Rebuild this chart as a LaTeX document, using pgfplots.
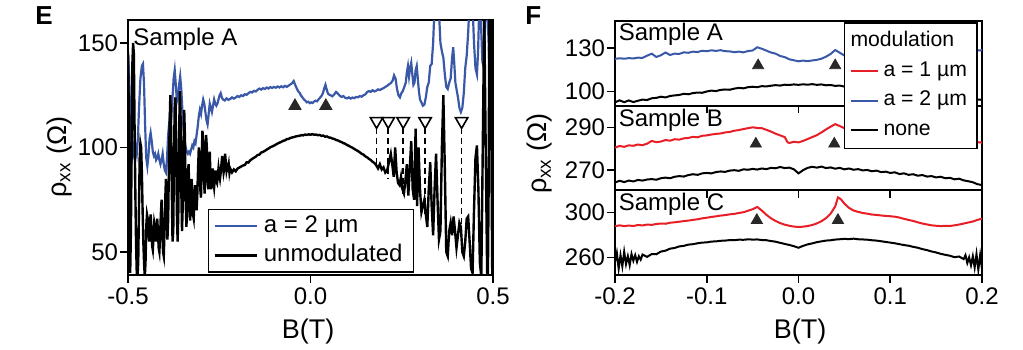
\documentclass[border=0pt]{standalone}
\usepackage{fontspec}
\setmainfont{Liberation Sans}
\usepackage{pgfplots}
\pgfplotsset{compat=1.18}
\definecolor{myblue}{RGB}{58,88,168}
\definecolor{myred}{RGB}{232,30,38}
\definecolor{tri}{RGB}{40,40,40}
\pgfplotsset{base/.style={
  scale only axis,
  axis line style={line width=1pt},
  tick style={line width=0.8pt, black},
  tick align=outside,
  major tick length=3.8pt,
  xtick pos=left, ytick pos=left,
  minor tick num=0,
  ticklabel style={font=\fontsize{12}{14}\selectfont},
  yticklabel style={inner sep=1pt},
  xticklabel style={inner sep=2.5pt},
  clip=true,
}}
\begin{document}
\begin{tikzpicture}
\useasboundingbox (0,0) rectangle (511.5pt,174.5pt);
% ================= Panel E =================
\begin{axis}[base, at={(64pt,37pt)}, anchor=south west, width=182.5pt, height=127.5pt,
  xmin=-0.5, xmax=0.5, ymin=39, ymax=161,
  xtick={-0.5,0,0.5}, xticklabels={-0.5,0.0,0.5},
  ytick={50,100,150}, yticklabels={50,100,150},
  legend cell align=left,
  legend image code/.code={\draw[#1] (0pt,0pt) -- (21pt,0pt);},
  legend style={at={(0.5014,0.0118)}, anchor=south, draw=black, line width=0.7pt, fill=white,
    outer sep=0pt, inner xsep=2.5pt, inner ysep=1pt, font=\fontsize{12}{14}\selectfont,
    row sep=0pt, nodes={inner xsep=3pt, inner ysep=1.6pt, text height=8.8pt, text depth=2.6pt}},
]
\addplot[myblue, line width=1.1pt] coordinates {
(-0.500,145) (-0.497,135) (-0.494,115) (-0.491,100) (-0.488,95) (-0.485,98) (-0.482,104) (-0.479,100)
(-0.476,97) (-0.473,104) (-0.470,118) (-0.466,133) (-0.462,139) (-0.459,140) (-0.456,130) (-0.453,110)
(-0.450,95) (-0.447,91) (-0.444,96) (-0.441,104) (-0.438,107) (-0.435,103) (-0.432,98) (-0.429,96)
(-0.426,97) (-0.423,94) (-0.420,95) (-0.417,97) (-0.414,94) (-0.411,92) (-0.408,94) (-0.405,97)
(-0.402,92) (-0.399,89) (-0.396,88) (-0.393,95) (-0.390,106) (-0.387,112) (-0.384,108) (-0.381,115)
(-0.378,124) (-0.375,133) (-0.372,137) (-0.369,130) (-0.366,122) (-0.363,124) (-0.360,130) (-0.357,134)
(-0.354,128) (-0.351,118) (-0.348,110) (-0.345,104) (-0.342,100) (-0.339,98) (-0.336,97) (-0.333,98)
(-0.330,97) (-0.327,99) (-0.324,101) (-0.321,100) (-0.318,103) (-0.315,102) (-0.312,106) (-0.309,110)
(-0.306,115) (-0.303,118) (-0.300,116) (-0.297,120) (-0.294,123) (-0.291,121) (-0.288,117) (-0.285,113)
(-0.282,111) (-0.279,116) (-0.276,121) (-0.273,119) (-0.270,117) (-0.267,120) (-0.264,123) (-0.261,121)
(-0.258,120) (-0.255,121) (-0.252,123) (-0.249,125) (-0.246,126) (-0.243,124) (-0.240,123) (-0.235,122.5)
(-0.230,123.5) (-0.225,122.8) (-0.220,123.2) (-0.215,124.0) (-0.210,123.4) (-0.205,123.9) (-0.200,124.6)
(-0.195,124.2) (-0.190,125.0) (-0.185,124.6) (-0.180,125.5) (-0.175,125.2) (-0.170,126.0) (-0.165,126.6)
(-0.160,126.3) (-0.155,127.1) (-0.150,126.8) (-0.145,127.6) (-0.140,128.2) (-0.135,127.7) (-0.130,128.4)
(-0.125,128.0) (-0.120,128.7) (-0.115,128.2) (-0.110,128.9) (-0.105,128.5) (-0.100,129.0) (-0.095,128.6)
(-0.090,129.2) (-0.085,128.7) (-0.080,129.3) (-0.075,128.8) (-0.070,129.5) (-0.065,129.0) (-0.060,129.6)
(-0.055,130.2) (-0.050,130.8) (-0.046,131.8) (-0.042,130.0) (-0.038,128.4) (-0.034,127.0) (-0.030,126.2)
(-0.026,124.8) (-0.022,124.0) (-0.018,123.0) (-0.014,122.4) (-0.010,121.6) (-0.006,121.9) (-0.002,121.2)
(0.002,121.6) (0.006,121.3) (0.010,122.0) (0.014,122.4) (0.018,122.1) (0.022,123.0) (0.026,123.8)
(0.030,124.6) (0.034,126.0) (0.038,128.5) (0.041,130.0) (0.044,128.0) (0.047,126.2) (0.050,125.4)
(0.055,125.0) (0.060,124.5) (0.065,125.4) (0.070,126.6) (0.075,125.8) (0.080,124.8) (0.085,124.2)
(0.090,124.6) (0.095,123.8) (0.100,123.5) (0.105,124.0) (0.110,123.4) (0.115,123.9) (0.120,123.6)
(0.125,124.2) (0.130,124.0) (0.135,124.6) (0.140,124.3) (0.145,125.0) (0.150,125.4) (0.155,126.5)
(0.160,127.0) (0.165,126.6) (0.170,127.4) (0.175,126.8) (0.180,127.2) (0.185,127.8) (0.190,127.5)
(0.195,128.0) (0.200,128.4) (0.205,129.0) (0.210,129.5) (0.215,130.2) (0.220,130.8) (0.225,132.0)
(0.229,134.5) (0.233,133.0) (0.237,128.0) (0.241,125.0) (0.245,124.0) (0.249,126.0) (0.253,127.0)
(0.257,129.0) (0.261,131.0) (0.264,136.0) (0.267,139.0) (0.270,134.0) (0.273,138.0) (0.276,140.5)
(0.279,135.0) (0.282,130.0) (0.285,131.0) (0.288,137.0) (0.291,139.0) (0.294,133.0) (0.297,127.0)
(0.300,123) (0.304,121.5) (0.308,120) (0.312,120.5) (0.316,124) (0.320,129) (0.324,131) (0.328,139)
(0.332,140) (0.336,150) (0.340,168) (0.344,170) (0.348,168) (0.352,165) (0.356,150) (0.360,146)
(0.364,143) (0.368,135) (0.372,129) (0.376,128) (0.380,131) (0.384,133) (0.388,143) (0.391,148)
(0.394,140) (0.397,131) (0.400,128) (0.404,124) (0.408,119) (0.412,117) (0.416,119) (0.420,126)
(0.424,138) (0.428,144) (0.432,155) (0.436,170) (0.440,170) (0.444,168) (0.448,150) (0.452,138)
(0.456,135) (0.459,145) (0.462,165) (0.465,170) (0.468,155) (0.471,141) (0.474,139) (0.477,150)
(0.480,170) (0.484,170) (0.488,150) (0.491,133) (0.494,140) (0.497,170) (0.500,170)
};
\addlegendentry{a = 2 µm}
\addplot[black, line width=1.2pt] coordinates {
(-0.500,146) (-0.498,120) (-0.496,70) (-0.494,40) (-0.492,60) (-0.490,100) (-0.488,140) (-0.486,150)
(-0.484,145) (-0.482,110) (-0.480,80) (-0.478,55) (-0.476,40) (-0.474,38) (-0.472,45) (-0.470,70)
(-0.468,95) (-0.466,102) (-0.464,100) (-0.462,88) (-0.460,70) (-0.458,55) (-0.456,45) (-0.454,38)
(-0.452,45) (-0.450,62) (-0.448,68) (-0.446,66) (-0.444,58) (-0.442,55) (-0.440,63) (-0.438,68)
(-0.436,62) (-0.434,53) (-0.432,51) (-0.430,57) (-0.428,64) (-0.426,62) (-0.424,55) (-0.422,58)
(-0.420,66) (-0.418,60) (-0.416,52) (-0.414,50) (-0.412,58) (-0.410,68) (-0.408,75) (-0.406,62)
(-0.404,50) (-0.402,48) (-0.400,60) (-0.398,75) (-0.396,85) (-0.394,70) (-0.392,56) (-0.390,65)
(-0.388,90) (-0.386,110) (-0.384,125) (-0.382,110) (-0.380,80) (-0.378,55) (-0.376,60) (-0.374,95)
(-0.372,120) (-0.370,124) (-0.368,100) (-0.366,68) (-0.364,55) (-0.362,70) (-0.360,105) (-0.358,127)
(-0.356,115) (-0.354,80) (-0.352,60) (-0.350,72) (-0.348,100) (-0.346,118) (-0.344,105) (-0.342,75)
(-0.340,62) (-0.338,70) (-0.336,88) (-0.334,92) (-0.332,78) (-0.330,65) (-0.328,70) (-0.326,85)
(-0.324,80) (-0.322,68) (-0.320,66) (-0.318,75) (-0.316,82) (-0.314,74) (-0.312,70) (-0.310,78)
(-0.308,90) (-0.306,100) (-0.304,95) (-0.302,80) (-0.300,76) (-0.298,95) (-0.296,108) (-0.294,103)
(-0.292,85) (-0.290,78) (-0.288,92) (-0.286,106) (-0.284,100) (-0.282,84) (-0.280,80) (-0.278,92)
(-0.276,98) (-0.274,86) (-0.272,80) (-0.270,84) (-0.268,90) (-0.266,84) (-0.264,81) (-0.262,85)
(-0.260,89) (-0.258,84) (-0.256,83) (-0.254,86) (-0.252,90) (-0.250,87) (-0.248,85) (-0.246,88)
(-0.244,92) (-0.242,96) (-0.240,92) (-0.238,88) (-0.236,90) (-0.234,97) (-0.232,93) (-0.230,89)
(-0.228,91) (-0.226,90) (-0.224,92) (-0.222,88) (-0.220,90)
(-0.215,88.1) (-0.210,89.5) (-0.205,88.6) (-0.200,89.9) (-0.195,90.4) (-0.190,90.9) (-0.185,91.4)
(-0.180,91.6) (-0.175,92.9) (-0.170,92.8) (-0.165,93.9) (-0.160,94.5) (-0.155,95.1) (-0.150,95.6)
(-0.145,96.4) (-0.140,96.6) (-0.135,97.6) (-0.130,97.9) (-0.125,98.4) (-0.120,99.0) (-0.115,99.5)
(-0.110,100.1) (-0.105,100.5) (-0.100,100.9) (-0.095,101.4) (-0.090,101.9) (-0.085,102.3) (-0.080,102.7)
(-0.075,103.2) (-0.070,103.4) (-0.065,104.0) (-0.060,104.1) (-0.055,104.6) (-0.050,104.8) (-0.045,105.0)
(-0.040,105.3) (-0.035,105.5) (-0.030,105.6) (-0.025,105.9) (-0.020,105.8) (-0.015,106.2) (-0.010,106.0)
(-0.005,106.3) (0.000,106.1) (0.005,106.4) (0.010,106.1) (0.015,106.2) (0.020,105.9) (0.025,106.0)
(0.030,105.6) (0.035,105.7) (0.040,105.2) (0.045,105.3) (0.050,104.8) (0.055,104.7) (0.060,104.3)
(0.065,104.1) (0.070,103.6) (0.075,103.4) (0.080,102.9) (0.085,102.6) (0.090,102.1) (0.095,101.8)
(0.100,101.2) (0.105,100.8) (0.110,100.3) (0.115,99.9) (0.120,99.3) (0.125,98.8) (0.130,98.3)
(0.135,97.7) (0.140,97.0) (0.145,96.6) (0.150,95.8) (0.155,95.3) (0.160,94.6) (0.165,94.0)
(0.170,93.2) (0.175,92.6) (0.180,91.5)
(0.185,90) (0.190,92) (0.195,89.5) (0.200,90.5) (0.205,88) (0.210,89) (0.215,93) (0.220,97)
(0.224,92) (0.228,86) (0.232,100) (0.236,88) (0.240,83) (0.244,82) (0.248,86) (0.252,80)
(0.256,78) (0.260,84) (0.264,92) (0.268,77) (0.272,90) (0.276,103) (0.280,80) (0.284,75)
(0.288,109) (0.292,72) (0.296,100) (0.300,80) (0.304,69) (0.308,72) (0.312,75) (0.316,68)
(0.320,62) (0.324,80) (0.328,93) (0.332,72) (0.336,58) (0.340,80) (0.344,97) (0.348,75)
(0.352,56) (0.356,60) (0.360,100) (0.364,125) (0.368,90) (0.372,50) (0.376,48) (0.380,60)
(0.384,64) (0.388,58) (0.392,67) (0.396,60) (0.400,52) (0.404,58) (0.408,64) (0.412,62)
(0.416,50) (0.420,48) (0.424,55) (0.428,66) (0.432,67) (0.436,55) (0.440,42) (0.444,40)
(0.448,70) (0.452,95) (0.456,101) (0.460,80) (0.464,45) (0.468,38) (0.472,100) (0.476,165)
(0.480,100) (0.484,40) (0.486,38) (0.488,80) (0.490,165) (0.494,165) (0.496,90) (0.498,38) (0.500,170)
};
\addlegendentry{unmodulated}
% dashed guide lines
\addplot[black, line width=0.8pt, dash pattern=on 3pt off 2pt, forget plot] coordinates {(0.181,109.5) (0.181,91.6)};
\addplot[black, line width=0.8pt, dash pattern=on 3pt off 2pt, forget plot] coordinates {(0.213,109.5) (0.213,85.4)};
\addplot[black, line width=0.8pt, dash pattern=on 3pt off 2pt, forget plot] coordinates {(0.254,109.5) (0.254,77)};
\addplot[black, line width=0.8pt, dash pattern=on 3pt off 2pt, forget plot] coordinates {(0.314,109.5) (0.314,68)};
\addplot[black, line width=0.8pt, dash pattern=on 3pt off 2pt, forget plot] coordinates {(0.414,109.5) (0.414,53)};
% open triangles
\addplot[only marks, mark=triangle*, mark size=3.6pt, mark options={rotate=180, draw=black, fill=white, line width=0.8pt}, forget plot]
  coordinates {(0.181,112.6) (0.213,112.6) (0.254,112.6) (0.314,112.6) (0.414,112.6)};
% filled triangles
\addplot[only marks, mark=triangle*, mark size=3.5pt, mark options={draw=tri, fill=tri}, forget plot]
  coordinates {(-0.0425,119.9) (0.042,119.9)};
\end{axis}
% ================= Panel F, top (Sample A) =================
\begin{axis}[base, at={(307.5pt,121.67pt)}, anchor=south west, width=183.5pt, height=42.33pt,
  xmin=-0.2, xmax=0.2, ymin=90.2, ymax=148.8,
  xtick={-0.2,-0.1,0,0.1,0.2}, xticklabels={},
  ytick={100,130}, yticklabels={100,130},
]
\addplot[myblue, line width=1pt] coordinates {
(-0.200,122.6) (-0.195,123.0) (-0.190,122.7) (-0.185,123.1) (-0.180,122.9) (-0.175,123.4) (-0.170,123.3)
(-0.165,124.8) (-0.160,126.2) (-0.155,123.9) (-0.150,125.1) (-0.145,127.0) (-0.140,125.3) (-0.135,126.2)
(-0.130,126.0) (-0.125,127.1) (-0.120,126.8) (-0.115,127.6) (-0.110,127.3) (-0.105,128.2) (-0.100,127.9)
(-0.095,128.5) (-0.090,128.1) (-0.085,128.6) (-0.080,127.9) (-0.075,127.8) (-0.070,127.2) (-0.065,127.6)
(-0.060,127.1) (-0.055,128.0) (-0.050,128.4) (-0.045,130.6) (-0.040,129.6) (-0.035,128.3) (-0.030,127.0)
(-0.025,126.2) (-0.020,124.6) (-0.015,123.8) (-0.010,122.3) (-0.005,121.6) (0.000,120.9) (0.005,121.4)
(0.010,121.0) (0.015,121.5) (0.020,121.9) (0.025,122.7) (0.030,124.1) (0.035,126.0) (0.040,128.7)
(0.045,126.8) (0.050,124.9) (0.055,124.3) (0.060,123.8) (0.065,124.2) (0.070,123.6) (0.075,124.0)
(0.080,123.9) (0.090,124.5) (0.100,125.0) (0.110,125.5) (0.120,126.3) (0.130,126.0) (0.140,126.8)
(0.150,127.0) (0.160,127.5) (0.170,127.2) (0.180,128.0) (0.190,128.2) (0.200,128.6)
};
\addplot[black, line width=1pt] coordinates {
(-0.200,92.5) (-0.195,93.9) (-0.190,92.6) (-0.185,93.8) (-0.180,92.7) (-0.175,93.6) (-0.170,94.4)
(-0.165,94.1) (-0.160,95.3) (-0.155,95.6) (-0.150,96.4) (-0.145,95.9) (-0.140,96.9) (-0.135,97.3)
(-0.130,97.6) (-0.125,98.4) (-0.120,98.1) (-0.115,98.9) (-0.110,99.3) (-0.105,99.1) (-0.100,100.0)
(-0.095,100.6) (-0.090,100.3) (-0.085,101.1) (-0.080,101.4) (-0.075,101.2) (-0.070,102.0) (-0.065,102.5)
(-0.060,102.2) (-0.055,103.0) (-0.050,103.3) (-0.045,103.0) (-0.040,103.7) (-0.035,103.5) (-0.030,104.0)
(-0.025,104.4) (-0.020,104.1) (-0.015,104.7) (-0.010,104.5) (-0.005,104.9) (0.000,104.6) (0.005,105.0)
(0.010,104.7) (0.015,105.1) (0.020,104.6) (0.025,104.9) (0.030,104.3) (0.035,104.5) (0.040,103.9)
(0.045,104.1) (0.050,103.4) (0.055,103.6) (0.060,102.8) (0.065,102.9) (0.070,102.2) (0.075,102.4)
(0.080,101.7) (0.090,101.0) (0.100,100.4) (0.110,99.8) (0.120,99.0) (0.130,98.4) (0.140,97.8)
(0.150,97.0) (0.160,96.5) (0.170,95.8) (0.180,95.3) (0.190,94.8) (0.200,94.2)
};
\addplot[only marks, mark=triangle*, mark size=3.2pt, mark options={draw=tri, fill=tri}]
  coordinates {(-0.044,118) (0.040,118)};
\end{axis}
% ================= Panel F, middle (Sample B) =================
\begin{axis}[base, at={(307.5pt,79.33pt)}, anchor=south west, width=183.5pt, height=42.33pt,
  xmin=-0.2, xmax=0.2, ymin=260.3, ymax=300.2,
  xtick={-0.2,-0.1,0,0.1,0.2}, xticklabels={},
  ytick={270,290}, yticklabels={270,290},
]
\addplot[myred, line width=1pt] coordinates {
(-0.200,280.4) (-0.195,281.2) (-0.190,280.8) (-0.185,281.5) (-0.180,281.3) (-0.175,281.9) (-0.170,281.6)
(-0.165,282.3) (-0.160,283.6) (-0.155,283.0) (-0.150,283.3) (-0.145,284.0) (-0.140,283.7) (-0.135,284.4)
(-0.130,284.2) (-0.125,284.8) (-0.120,285.0) (-0.115,285.5) (-0.110,285.3) (-0.105,286.0) (-0.100,286.2)
(-0.095,286.6) (-0.090,286.9) (-0.085,287.1) (-0.080,287.6) (-0.075,287.8) (-0.070,288.4) (-0.065,288.7)
(-0.060,289.2) (-0.055,289.6) (-0.050,290.0) (-0.045,289.7) (-0.040,289.6) (-0.035,288.8) (-0.030,288.0)
(-0.025,287.0) (-0.020,286.2) (-0.015,285.4) (-0.012,283.0) (-0.010,282.6) (-0.005,283.2) (0.000,282.9)
(0.005,283.6) (0.010,284.5) (0.015,285.4) (0.020,286.3) (0.025,287.6) (0.030,289.0) (0.035,290.3)
(0.040,291.5) (0.045,290.6) (0.050,289.6) (0.055,288.9) (0.060,288.3) (0.065,288.0) (0.080,287.5)
(0.100,287.0) (0.120,286.2) (0.140,285.5) (0.160,284.6) (0.180,283.8) (0.190,283.2) (0.200,282.8)
};
\addplot[black, line width=1pt] coordinates {
(-0.200,264.0) (-0.195,264.8) (-0.190,264.2) (-0.185,264.9) (-0.180,264.5) (-0.175,265.2) (-0.170,264.9)
(-0.165,265.4) (-0.160,265.6) (-0.155,265.3) (-0.150,266.0) (-0.145,266.3) (-0.140,266.0) (-0.135,266.7)
(-0.130,267.0) (-0.125,266.8) (-0.120,267.5) (-0.115,267.9) (-0.110,267.6) (-0.105,268.3) (-0.100,268.5)
(-0.095,268.3) (-0.090,268.9) (-0.085,269.2) (-0.080,269.0) (-0.075,269.6) (-0.070,269.8) (-0.065,269.5)
(-0.060,270.2) (-0.055,270.0) (-0.050,270.4) (-0.045,270.1) (-0.040,270.6) (-0.035,270.3) (-0.030,270.9)
(-0.025,270.7) (-0.020,271.3) (-0.015,270.8) (-0.010,271.0) (-0.005,270.2) (0.000,268.3) (0.005,269.8)
(0.010,270.9) (0.015,271.4) (0.020,271.0) (0.025,271.5) (0.030,270.8) (0.035,271.1) (0.040,270.5)
(0.045,270.9) (0.050,270.2) (0.055,270.6) (0.060,270.0) (0.065,270.3) (0.070,269.7) (0.075,269.9)
(0.080,269.3) (0.085,269.6) (0.090,268.9) (0.095,269.1) (0.100,268.5) (0.105,268.8) (0.110,268.0)
(0.115,268.3) (0.120,267.6) (0.125,267.9) (0.130,267.2) (0.135,267.5) (0.140,266.8) (0.145,267.0)
(0.150,266.4) (0.155,266.7) (0.160,266.0) (0.165,266.2) (0.170,265.5) (0.175,265.8) (0.180,265.0)
(0.185,264.6) (0.190,264.1) (0.195,263.2) (0.200,262.8)
};
\addplot[only marks, mark=triangle*, mark size=3.2pt, mark options={draw=tri, fill=tri}]
  coordinates {(-0.0465,282.2) (0.039,282.2)};
\end{axis}
% ================= Panel F, bottom (Sample C) =================
\begin{axis}[base, at={(307.5pt,37pt)}, anchor=south west, width=183.5pt, height=42.33pt,
  xmin=-0.2, xmax=0.2, ymin=244.3, ymax=319.8,
  xtick={-0.2,-0.1,0,0.1,0.2}, xticklabels={-0.2,-0.1,0.0,0.1,0.2},
  ytick={260,300}, yticklabels={260,300},
  legend cell align=left,
  legend image code/.code={\draw[#1] (0pt,0pt) -- (13.5pt,0pt);},
  legend style={at={(0.9864,2.9766)}, anchor=north east, draw=black, line width=0.7pt, fill=white,
    outer sep=0pt, inner xsep=2.5pt, inner ysep=1.5pt, font=\fontsize{10.6}{12}\selectfont,
    row sep=0pt, nodes={inner xsep=2.5pt, inner ysep=2.5pt, text height=7.6pt, text depth=2.3pt}},
]
\addlegendimage{empty legend}
\addlegendentry{\hspace{-16.5pt}modulation}
\addplot[myred, line width=1pt] coordinates {
(-0.200,287.8) (-0.195,288.6) (-0.190,287.9) (-0.185,288.4) (-0.180,288.0) (-0.175,288.9) (-0.170,288.5)
(-0.165,289.3) (-0.160,289.0) (-0.155,289.8) (-0.150,290.2) (-0.145,290.0) (-0.140,290.9) (-0.135,291.3)
(-0.130,291.8) (-0.125,292.4) (-0.120,292.8) (-0.115,293.5) (-0.110,294.0) (-0.105,294.8) (-0.100,295.4)
(-0.095,296.1) (-0.090,296.6) (-0.085,297.3) (-0.080,297.7) (-0.075,298.4) (-0.070,298.8) (-0.065,299.6)
(-0.060,300.3) (-0.055,301.6) (-0.050,303.0) (-0.045,305.0) (-0.040,301.8) (-0.035,298.0) (-0.030,294.9)
(-0.025,292.5) (-0.020,290.6) (-0.015,289.2) (-0.010,288.2) (-0.005,287.5) (0.000,287.1) (0.005,287.4)
(0.010,288.0) (0.015,288.9) (0.020,290.3) (0.025,292.3) (0.030,295.0) (0.035,299.0) (0.040,305.5)
(0.043,313.5) (0.046,312.0) (0.050,308.0) (0.055,304.2) (0.060,301.8) (0.065,300.6) (0.070,299.6)
(0.075,299.0) (0.080,298.2) (0.085,297.9) (0.090,297.4) (0.095,297.0) (0.100,296.7) (0.105,296.3)
(0.110,295.5) (0.115,294.4) (0.120,293.4) (0.125,292.5) (0.130,291.3) (0.135,290.2) (0.140,289.4)
(0.145,288.6) (0.150,288.2) (0.155,287.9) (0.160,288.1) (0.165,288.0) (0.170,288.6) (0.175,289.3)
(0.180,290.2) (0.185,291.1) (0.190,292.0) (0.195,293.4) (0.200,294.6)
};
\addlegendentry{a = 1 µm}
\addlegendimage{myblue, line width=1pt}
\addlegendentry{a = 2 µm}
\addplot[black, line width=1pt] coordinates {
(-0.200,256) (-0.198,264) (-0.196,250) (-0.194,262) (-0.192,252) (-0.190,265) (-0.188,254) (-0.186,261)
(-0.184,253) (-0.182,263) (-0.180,257) (-0.178,262) (-0.176,256) (-0.174,261) (-0.172,258) (-0.170,262.5)
(-0.165,260.5) (-0.160,263) (-0.155,262.8) (-0.150,265.2) (-0.145,266) (-0.140,267.8) (-0.135,268.4)
(-0.130,269.8) (-0.125,270.3) (-0.120,271.4) (-0.115,271.8) (-0.110,272.6) (-0.105,273.2) (-0.100,273.4)
(-0.095,274.1) (-0.090,274.3) (-0.085,274.8) (-0.080,275.0) (-0.075,275.4) (-0.070,275.3) (-0.065,275.8)
(-0.060,275.7) (-0.055,276.1) (-0.050,275.9) (-0.045,276.0) (-0.040,275.5) (-0.035,275.3) (-0.030,274.6)
(-0.025,274.0) (-0.020,273.0) (-0.015,272.0) (-0.010,271.1) (-0.005,270.0) (0.000,268.6) (0.005,270.3)
(0.010,271.6) (0.015,272.5) (0.020,273.6) (0.025,274.3) (0.030,275.0) (0.035,275.3) (0.040,275.9)
(0.045,276.2) (0.050,276.5) (0.055,276.3) (0.060,276.7) (0.065,276.2) (0.070,276.0) (0.075,275.8)
(0.080,275.3) (0.085,275.0) (0.090,274.4) (0.095,273.8) (0.100,273.2) (0.105,272.6) (0.110,271.8)
(0.115,271.0) (0.120,270.4) (0.125,269.4) (0.130,268.6) (0.135,267.4) (0.140,266.5) (0.145,265.3)
(0.150,264.4) (0.155,263.2) (0.160,262.3) (0.165,261.5) (0.170,260.2) (0.175,260.8) (0.180,258.5)
(0.182,262) (0.184,255) (0.186,260) (0.188,253) (0.190,261) (0.192,251) (0.194,263) (0.196,249)
(0.198,262) (0.200,250)
};
\addlegendentry{none}
\addplot[only marks, mark=triangle*, mark size=3.2pt, mark options={draw=tri, fill=tri}, forget plot]
  coordinates {(-0.0454,293.2) (0.043,293.2)};
\end{axis}
% ================= texts =================
\node[anchor=north west, inner sep=0pt, font=\fontsize{13}{15}\selectfont\bfseries] at (17.5pt,171.5pt) {E};
\node[anchor=north west, inner sep=0pt, font=\fontsize{13}{15}\selectfont\bfseries] at (262.5pt,171.5pt) {F};
\node[anchor=base west, inner sep=0pt, font=\fontsize{12}{14}\selectfont] at (66.5pt,152pt) {Sample A};
\node[anchor=base west, inner sep=0pt, font=\fontsize{12}{14}\selectfont] at (309.2pt,154.2pt) {Sample A};
\node[anchor=base west, inner sep=0pt, font=\fontsize{12}{14}\selectfont] at (309.2pt,111.2pt) {Sample B};
\node[anchor=base west, inner sep=0pt, font=\fontsize{12}{14}\selectfont] at (309.2pt,69.5pt) {Sample C};
\node[anchor=base, inner sep=0pt, font=\fontsize{13.5}{16}\selectfont] at (154pt,5.5pt) {B(T)};
\node[anchor=base, inner sep=0pt, font=\fontsize{13.5}{16}\selectfont] at (400pt,5.5pt) {B(T)};
\node[anchor=base, inner sep=0pt, rotate=90, font=\fontsize{13.5}{16}\selectfont] at (33pt,96pt) {ρ\textsubscript{xx} (Ω)};
\node[anchor=base, inner sep=0pt, rotate=90, font=\fontsize{13.5}{16}\selectfont] at (273.3pt,97.75pt) {ρ\textsubscript{xx} (Ω)};
\end{tikzpicture}
\end{document}
